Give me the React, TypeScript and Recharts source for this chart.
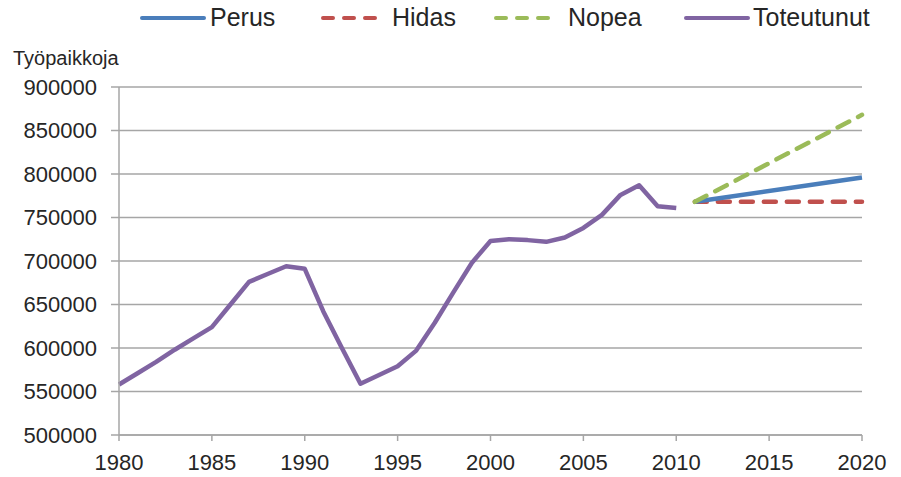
import React from 'react';
import { LineChart, Line, XAxis, YAxis, CartesianGrid, Legend, Label } from 'recharts';

const years = [1980, 1981, 1982, 1983, 1984, 1985, 1986, 1987, 1988, 1989, 1990, 1991, 1992, 1993, 1994, 1995, 1996, 1997, 1998, 1999, 2000, 2001, 2002, 2003, 2004, 2005, 2006, 2007, 2008, 2009, 2010];
const toteutunutValues = [558000, 571000, 584000, 598000, 611000, 624000, 650000, 676000, 685000, 694000, 691000, 642000, 600000, 559000, 569000, 579000, 597000, 629000, 664000, 698000, 723000, 725000, 724000, 722000, 727000, 738000, 753000, 776000, 787000, 763000, 761000];

const forecastYears = [2011, 2020];
const perusValues = [768000, 796000];
const hidasValues = [768000, 768000];
const nopeaValues = [768000, 868000];

const xTicks = [1980, 1985, 1990, 1995, 2000, 2005, 2010, 2015, 2020];
const yTicks = [500000, 550000, 600000, 650000, 700000, 750000, 800000, 850000, 900000];

const seriesNames = ['Perus', 'Hidas', 'Nopea', 'Toteutunut'];
const seriesColors = ['#4A7EBB', '#C0504D', '#9BBB59', '#8064A2'];
const yAxisTitle = 'Työpaikkoja';

const toteutunutData = years.map((y, i) => ({ year: y, value: toteutunutValues[i] }));
const perusData = forecastYears.map((y, i) => ({ year: y, value: perusValues[i] }));
const hidasData = forecastYears.map((y, i) => ({ year: y, value: hidasValues[i] }));
const nopeaData = forecastYears.map((y, i) => ({ year: y, value: nopeaValues[i] }));

const FONT = '"Liberation Sans", Arial, sans-serif';
const TEXT = '#262626';

const legendLayout = [
  { iconLeft: 142, textLeft: 210, dashed: false },
  { iconLeft: 323, textLeft: 392, dashed: true },
  { iconLeft: 496, textLeft: 568, dashed: true },
  { iconLeft: 686, textLeft: 753, dashed: false },
];

const renderLegend = () => (
  <div style={{ position: 'relative', width: 901, height: 34, fontFamily: FONT, fontSize: 25, color: TEXT }}>
    {seriesNames.map((name, i) => {
      const l = legendLayout[i];
      return (
        <React.Fragment key={name}>
          <svg style={{ position: 'absolute', left: l.iconLeft - 2, top: 14 }} width={68} height={8}>
            <line
              x1={2}
              y1={4}
              x2={l.dashed ? 58 : 64}
              y2={4}
              stroke={seriesColors[i]}
              strokeWidth={4}
              strokeLinecap="round"
              strokeDasharray={l.dashed ? '10 11' : undefined}
            />
          </svg>
          <span style={{ position: 'absolute', left: l.textLeft, top: 3, lineHeight: '28px', whiteSpace: 'nowrap' }}>{name}</span>
        </React.Fragment>
      );
    })}
  </div>
);

const renderYTitle = (props: any) => {
  const vb = props.viewBox || { x: 0, y: 87 };
  return (
    <text x={vb.x + 13} y={vb.y - 22} fill={TEXT} fontSize={20} fontFamily={FONT}>
      {yAxisTitle}
    </text>
  );
};

export default function App() {
  return (
    <div style={{ position: 'absolute', left: 0, top: 0, width: 901, height: 477, background: '#fff' }}>
      <LineChart width={901} height={477} margin={{ top: 87, right: 39, bottom: 0, left: 0 }}>
        <CartesianGrid vertical={false} stroke="#A6A6A6" strokeWidth={1.5} />
        <XAxis
          type="number"
          dataKey="year"
          domain={[1980, 2020]}
          ticks={xTicks}
          allowDuplicatedCategory={false}
          height={42}
          stroke="#A6A6A6"
          strokeWidth={1.5}
          tickSize={6}
          tickMargin={13}
          tick={{ fill: TEXT, fontSize: 22, fontFamily: FONT }}
        />
        <YAxis
          type="number"
          domain={[500000, 900000]}
          ticks={yTicks}
          width={119}
          stroke="#A6A6A6"
          strokeWidth={1.5}
          tickSize={8}
          tickMargin={14}
          interval={0}
          tick={{ fill: TEXT, fontSize: 22, fontFamily: FONT }}
        >
          <Label content={renderYTitle} />
        </YAxis>
        <Legend verticalAlign="middle" align="center" layout="horizontal" wrapperStyle={{ top: 0, left: 0, width: 901 }} content={renderLegend} />
        <Line data={toteutunutData} dataKey="value" name={seriesNames[3]} stroke={seriesColors[3]} strokeWidth={4.5} dot={false} isAnimationActive={false} strokeLinejoin="round" />
        <Line data={hidasData} dataKey="value" name={seriesNames[1]} stroke={seriesColors[1]} strokeWidth={4.5} strokeDasharray="12 11" strokeLinecap="round" dot={false} isAnimationActive={false} />
        <Line data={perusData} dataKey="value" name={seriesNames[0]} stroke={seriesColors[0]} strokeWidth={4.5} dot={false} isAnimationActive={false} />
        <Line data={nopeaData} dataKey="value" name={seriesNames[2]} stroke={seriesColors[2]} strokeWidth={4.5} strokeDasharray="13 10" strokeLinecap="round" dot={false} isAnimationActive={false} />
      </LineChart>
    </div>
  );
}
